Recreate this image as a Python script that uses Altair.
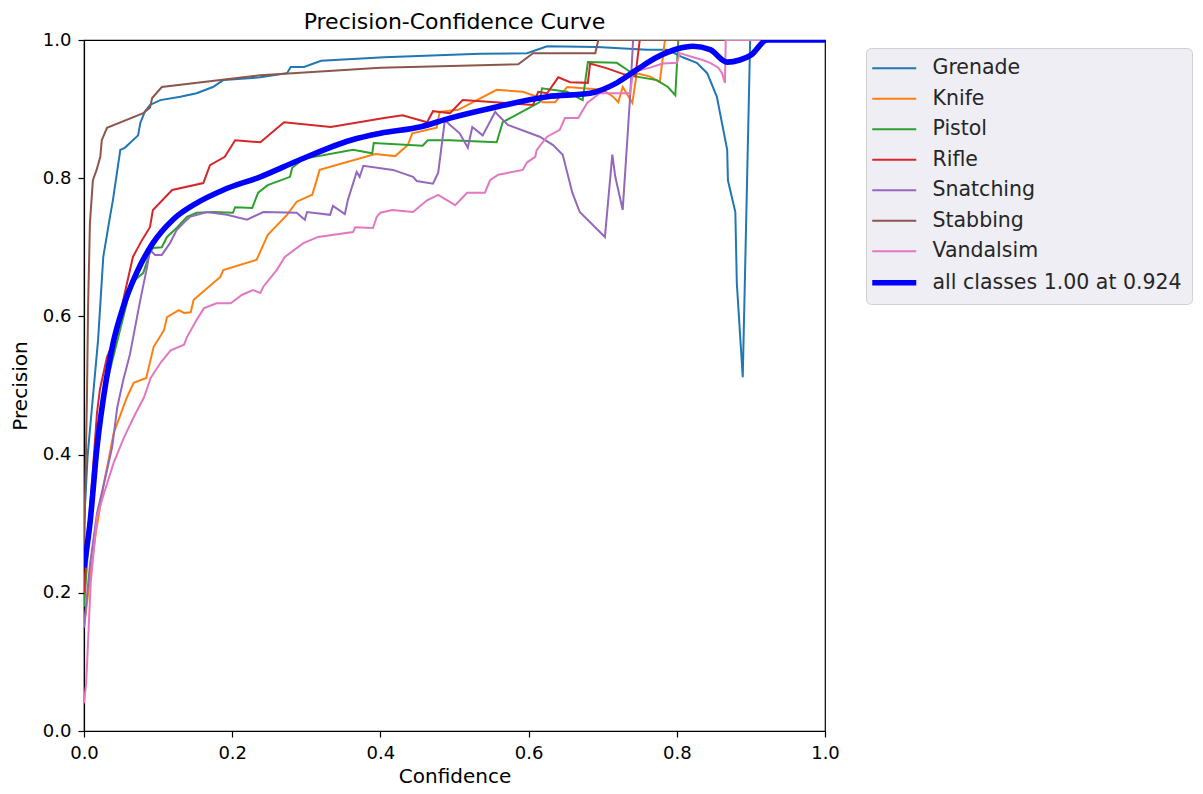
import altair as alt
import pandas as pd

names = ["Grenade", "Knife", "Pistol", "Rifle", "Snatching", "Stabbing", "Vandalsim",
         "all classes 1.00 at 0.924"]
colors = ["#1f77b4", "#ff7f0e", "#2ca02c", "#d62728", "#9467bd", "#8c564b", "#e377c2", "#0000ff"]

grenade_c = [0, 0.005, 0.012, 0.019, 0.026, 0.035, 0.039, 0.049, 0.055, 0.073,
             0.076, 0.082, 0.089, 0.103, 0.13, 0.152, 0.174, 0.188, 0.238, 0.274,
             0.279, 0.297, 0.32, 0.405, 0.534, 0.598, 0.625, 0.692, 0.76, 0.787,
             0.808, 0.827, 0.841, 0.854, 0.862, 0.868, 0.869, 0.879, 0.881, 0.889,
             0.899, 1.0]
grenade_p = [0.30, 0.40, 0.483, 0.566, 0.686, 0.744, 0.768, 0.841, 0.844, 0.862,
             0.88, 0.896, 0.906, 0.913, 0.918, 0.923, 0.932, 0.942, 0.946, 0.952,
             0.961, 0.961, 0.970, 0.975, 0.98, 0.981, 0.991, 0.99, 0.986, 0.986,
             0.975, 0.967, 0.952, 0.918, 0.874, 0.841, 0.797, 0.751, 0.648, 0.512,
             1.0, 1.0]

knife_c = [0, 0.008, 0.016, 0.027, 0.034, 0.04, 0.05, 0.058, 0.067, 0.084,
           0.094, 0.108, 0.112, 0.128, 0.135, 0.144, 0.148, 0.184, 0.188, 0.233,
           0.248, 0.274, 0.287, 0.308, 0.312, 0.318, 0.393, 0.42, 0.437, 0.443,
           0.476, 0.48, 0.505, 0.557, 0.592, 0.611, 0.619, 0.636, 0.652, 0.70,
           0.714, 0.721, 0.727, 0.74, 0.746, 0.764, 0.777, 0.784, 1.0]
knife_p = [0.15, 0.22, 0.287, 0.359, 0.397, 0.431, 0.46, 0.483, 0.504, 0.511,
           0.556, 0.58, 0.599, 0.609, 0.605, 0.606, 0.624, 0.657, 0.667, 0.682,
           0.718, 0.747, 0.766, 0.776, 0.79, 0.812, 0.835, 0.832, 0.848, 0.865,
           0.873, 0.896, 0.899, 0.928, 0.925, 0.918, 0.91, 0.91, 0.932, 0.928,
           0.918, 0.91, 0.932, 0.909, 0.952, 0.947, 0.939, 1.0, 1.0]

pistol_c = [0, 0.01, 0.02, 0.028, 0.035, 0.053, 0.062, 0.069, 0.080, 0.089,
            0.093, 0.105, 0.112, 0.125, 0.139, 0.152, 0.174, 0.201, 0.204, 0.227,
            0.235, 0.248, 0.278, 0.281, 0.296, 0.363, 0.389, 0.391, 0.457, 0.464,
            0.494, 0.557, 0.565, 0.615, 0.618, 0.652, 0.673, 0.68, 0.719, 0.733,
            0.746, 0.773, 0.788, 0.798, 0.802, 1.0]
pistol_p = [0.18, 0.33, 0.44, 0.49, 0.522, 0.599, 0.638, 0.653, 0.663, 0.692,
            0.699, 0.70, 0.715, 0.728, 0.744, 0.75, 0.751, 0.75, 0.758, 0.757,
            0.779, 0.79, 0.802, 0.815, 0.828, 0.841, 0.836, 0.851, 0.847, 0.855,
            0.855, 0.852, 0.881, 0.91, 0.93, 0.925, 0.913, 0.968, 0.967, 0.957,
            0.947, 0.942, 0.932, 0.92, 1.0, 1.0]

rifle_c = [0, 0.004, 0.011, 0.0175, 0.0216, 0.031, 0.045, 0.053, 0.066, 0.078,
           0.089, 0.093, 0.119, 0.161, 0.17, 0.19, 0.204, 0.238, 0.27, 0.333,
           0.405, 0.43, 0.463, 0.471, 0.494, 0.511, 0.606, 0.613, 0.625, 0.64,
           0.656, 0.68, 0.683, 0.706, 0.727, 0.744, 0.75, 1.0]
rifle_p = [0.2, 0.266, 0.363, 0.46, 0.495, 0.541, 0.576, 0.624, 0.686, 0.71,
           0.729, 0.754, 0.783, 0.793, 0.819, 0.831, 0.855, 0.852, 0.881, 0.874,
           0.887, 0.891, 0.881, 0.897, 0.894, 0.913, 0.906, 0.925, 0.923, 0.946,
           0.939, 0.938, 0.966, 0.959, 0.951, 0.947, 1.0, 1.0]

snatching_c = [0, 0.008, 0.0175, 0.028, 0.038, 0.045, 0.053, 0.062, 0.076, 0.085,
               0.089, 0.096, 0.105, 0.116, 0.125, 0.139, 0.143, 0.166, 0.193, 0.22,
               0.242, 0.287, 0.298, 0.301, 0.332, 0.336, 0.352, 0.356, 0.368, 0.372,
               0.377, 0.417, 0.444, 0.449, 0.471, 0.478, 0.487, 0.494, 0.507, 0.518,
               0.524, 0.538, 0.555, 0.559, 0.572, 0.615, 0.633, 0.646, 0.659, 0.669,
               0.703, 0.713, 0.717, 0.727, 0.737, 0.741, 1.0]
snatching_p = [0.15, 0.24, 0.315, 0.363, 0.411, 0.469, 0.508, 0.545, 0.624, 0.671,
               0.696, 0.689, 0.689, 0.706, 0.725, 0.74, 0.744, 0.751, 0.747, 0.74,
               0.751, 0.75, 0.74, 0.751, 0.747, 0.76, 0.748, 0.768, 0.809, 0.802,
               0.818, 0.812, 0.802, 0.796, 0.792, 0.808, 0.884, 0.877, 0.865, 0.844,
               0.874, 0.862, 0.896, 0.891, 0.877, 0.86, 0.848, 0.834, 0.779, 0.751,
               0.715, 0.834, 0.802, 0.754, 0.918, 1.0, 1.0]

stabbing_c = [0, 0.004, 0.0055, 0.008, 0.012, 0.017, 0.022, 0.024, 0.031, 0.08,
              0.089, 0.092, 0.105, 0.238, 0.40, 0.586, 0.606, 0.69, 0.694, 1.0]
stabbing_p = [0.25, 0.483, 0.614, 0.735, 0.797, 0.812, 0.831, 0.855, 0.873, 0.894,
              0.902, 0.916, 0.932, 0.949, 0.96, 0.965, 0.981, 0.981, 1.0, 1.0]

vandalsim_c = [0, 0.003, 0.009, 0.0175, 0.027, 0.04, 0.054, 0.067, 0.081, 0.09,
               0.104, 0.117, 0.135, 0.139, 0.152, 0.162, 0.179, 0.198, 0.213, 0.228,
               0.238, 0.242, 0.26, 0.271, 0.296, 0.316, 0.363, 0.366, 0.39, 0.395,
               0.4, 0.416, 0.444, 0.463, 0.478, 0.501, 0.517, 0.541, 0.548, 0.559,
               0.592, 0.598, 0.609, 0.611, 0.625, 0.642, 0.649, 0.667, 0.679, 0.696,
               0.737, 0.741, 0.764, 0.781, 0.80, 0.804, 0.822, 0.835, 0.845, 0.856,
               0.861, 0.865, 0.866, 1.0]
vandalsim_p = [0.04, 0.07, 0.214, 0.31, 0.344, 0.388, 0.425, 0.454, 0.483, 0.511,
               0.534, 0.551, 0.559, 0.57, 0.595, 0.612, 0.619, 0.619, 0.631, 0.638,
               0.634, 0.643, 0.667, 0.686, 0.706, 0.715, 0.722, 0.729, 0.728, 0.744,
               0.75, 0.754, 0.751, 0.768, 0.776, 0.761, 0.779, 0.779, 0.797, 0.805,
               0.812, 0.823, 0.831, 0.841, 0.86, 0.87, 0.887, 0.887, 0.909, 0.923,
               0.923, 0.954, 0.96, 0.966, 0.967, 0.981, 0.975, 0.971, 0.967, 0.96,
               0.952, 0.938, 1.0, 1.0]

all_c = [0, 0.008, 0.0175, 0.03, 0.039, 0.053, 0.071, 0.093, 0.12, 0.152,
         0.188, 0.238, 0.29, 0.36, 0.40, 0.453, 0.494, 0.552, 0.625, 0.683,
         0.719, 0.746, 0.773, 0.80, 0.822, 0.845, 0.868, 0.885, 0.90, 0.922,
         1.0]
all_p = [0.237, 0.30, 0.41, 0.508, 0.56, 0.614, 0.663, 0.706, 0.74, 0.764,
         0.783, 0.802, 0.826, 0.855, 0.865, 0.874, 0.887, 0.902, 0.918, 0.923,
         0.938, 0.957, 0.975, 0.987, 0.991, 0.986, 0.968, 0.971, 0.978, 1.0,
         1.0]

series_xy = [
    (grenade_c, grenade_p), (knife_c, knife_p), (pistol_c, pistol_p),
    (rifle_c, rifle_p), (snatching_c, snatching_p), (stabbing_c, stabbing_p),
    (vandalsim_c, vandalsim_p), (all_c, all_p),
]

THIN, THICK = 2.0, 5.6

rows = []
for name, (cs, ps) in zip(names, series_xy):
    if len(cs) != len(ps):
        raise ValueError(f"length mismatch in {name}: {len(cs)} vs {len(ps)}")
    for i, (c, p) in enumerate(zip(cs, ps)):
        rows.append({"series": name, "conf": c, "prec": p, "idx": i,
                     "lw": THICK if name == names[-1] else THIN})
df = pd.DataFrame(rows)

FONT = "DejaVu Sans"
ticks = [0.0, 0.2, 0.4, 0.6, 0.8, 1.0]

color_enc = alt.Color(
    "series:N",
    scale=alt.Scale(domain=names, range=colors),
    legend=alt.Legend(
        title=None, orient="none", legendX=782, legendY=8,
        symbolType="stroke", symbolSize=1936, symbolOffset=8,
        symbolStrokeWidth={"expr": f"datum.value == 'all classes 1.00 at 0.924' ? {THICK} : {THIN}"},
        labelFont=FONT, labelFontSize=20.5, labelColor="#262626", labelLimit=500,
        labelOffset=28, fillColor="#eeeef4", strokeColor="#d0d0d0",
        cornerRadius=5, padding=10, rowPadding=9.5,
    ),
)

x_enc = alt.X("conf:Q", scale=alt.Scale(domain=[0, 1], nice=False, zero=False),
              axis=alt.Axis(title="Confidence", values=ticks, format=".1f",
                            labelPadding=7, titlePadding=4))
y_enc = alt.Y("prec:Q", scale=alt.Scale(domain=[0, 1], nice=False, zero=False),
              axis=alt.Axis(title="Precision", values=ticks, format=".1f",
                            labelPadding=7, titlePadding=12))

base = alt.Chart(df)
classes = base.transform_filter(alt.datum.series != names[-1]).mark_line(clip=True).encode(
    x=x_enc, y=y_enc, color=color_enc,
    strokeWidth=alt.StrokeWidth("lw:Q", scale=None),
    order=alt.Order("idx:Q"),
)
allc = base.transform_filter(alt.datum.series == names[-1]).mark_line(
    clip=True, interpolate="monotone"
).encode(
    x=x_enc, y=y_enc, color=color_enc,
    strokeWidth=alt.StrokeWidth("lw:Q", scale=None),
    order=alt.Order("idx:Q"),
)

chart = alt.layer(classes, allc).properties(
    width=741, height=691,
    title=alt.TitleParams("Precision-Confidence Curve", font=FONT, fontSize=22,
                          fontWeight="normal", color="black", offset=-3, anchor="middle"),
    autosize=alt.AutoSizeParams(type="none"),
    padding={"left": 76, "top": 32, "right": 370, "bottom": 55},
    background="white",
).configure_view(
    stroke="black", strokeWidth=1.2
).configure_axis(
    grid=False, labelFont=FONT, labelFontSize=18, labelColor="black",
    titleFont=FONT, titleFontSize=20, titleFontWeight="normal", titleColor="black",
    tickColor="black", tickSize=6, tickWidth=1.2, domainColor="black", domainWidth=1.2,
    labelFlush=False, labelOverlap=False,
)

chart.save("out.html", embed_options={"renderer": "svg", "actions": False})
